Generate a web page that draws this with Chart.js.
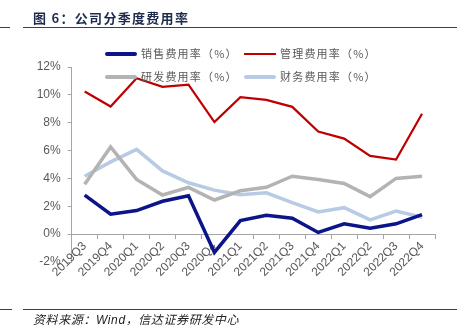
<!DOCTYPE html>
<html>
<head>
<meta charset="utf-8">
<script src="https://cdn.jsdelivr.net/npm/chart.js@4"></script>
<style>
  html, body { margin:0; padding:0; background:#fff; }
  #wrap { position:relative; width:465px; height:336px; overflow:hidden; background:#fff; }
  #c { position:absolute; left:0; top:0; }
  .txt { position:absolute; white-space:nowrap; }
  .rule { position:absolute; height:1px; background:#404040; }
  .lg-line { position:absolute; }
  .lg-text { position:absolute; font-family:"Noto Sans CJK SC", sans-serif; font-size:11px; color:#595959; letter-spacing:1.2px; line-height:14px; }
</style>
</head>
<body>
<div id="wrap">
  <canvas id="c" width="465" height="336"></canvas>
  <div class="txt" style="left:33px; top:9px; font-family:'Noto Sans CJK SC',sans-serif; font-weight:bold; font-size:13px; color:#1f2b4d; letter-spacing:1.3px; line-height:18px;">图 6：公司分季度费用率</div>
  <div class="rule" style="left:0; top:27px; width:10px;"></div>
  <div class="rule" style="left:23px; top:27px; width:434px;"></div>
  <div class="rule" style="left:0; top:309px; width:12px;"></div>
  <div class="rule" style="left:23px; top:309px; width:434px;"></div>
  <div class="txt" style="left:33px; top:311px; font-family:'Noto Sans CJK SC',sans-serif; font-style:italic; font-size:12px; color:#222; letter-spacing:0.6px; line-height:16px;">资料来源：<span style="font-family:'Liberation Sans',sans-serif;">Wind</span>，信达证券研发中心</div>
  <div id="legend"></div>
</div>
<script>
const categories = ['2019Q3','2019Q4','2020Q1','2020Q2','2020Q3','2020Q4','2021Q1','2021Q2','2021Q3','2021Q4','2022Q1','2022Q2','2022Q3','2022Q4'];
const seriesNames = ['销售费用率（%）','管理费用率（%）','研发费用率（%）','财务费用率（%）'];
const salesRate   = [2.80, 1.43, 1.69, 2.36, 2.76, -1.31, 0.97, 1.36, 1.14, 0.12, 0.74, 0.43, 0.74, 1.40];
const mgmtRate    = [10.24, 9.16, 11.19, 10.57, 10.74, 8.04, 9.83, 9.64, 9.14, 7.36, 6.86, 5.62, 5.36, 8.64];
const rdRate      = [3.59, 6.26, 3.93, 2.81, 3.36, 2.45, 3.11, 3.36, 4.16, 3.93, 3.64, 2.69, 4.00, 4.16];
const finRate     = [4.16, 5.19, 6.09, 4.54, 3.69, 3.16, 2.83, 2.97, 2.26, 1.59, 1.90, 1.02, 1.66, 1.21];
const yTicks = [-2, 0, 2, 4, 6, 8, 10, 12];

const colors = ['#0b1488', '#c00000', '#b3b3b3', '#b7cbe5'];
const widths = [3.5, 2.2, 3.5, 3.5];
const values = [salesRate, mgmtRate, rdRate, finRate];

// legend (HTML)
const lgPos = [
  {x:105, y:54}, {x:244, y:54},
  {x:105, y:77}, {x:244, y:77}
];
const lg = document.getElementById('legend');
seriesNames.forEach((name, i) => {
  const p = lgPos[i];
  const lw = i === 1 ? 2.5 : 4;
  const l = document.createElement('div');
  l.className = 'lg-line';
  l.style.left = p.x + 'px';
  l.style.top = (p.y - lw/2) + 'px';
  l.style.width = '32px';
  l.style.height = lw + 'px';
  l.style.background = colors[i];
  if (i !== 1) l.style.borderRadius = '2px';
  lg.appendChild(l);
  const t = document.createElement('div');
  t.className = 'lg-text';
  t.style.left = (p.x + 36) + 'px';
  t.style.top = (p.y - 8) + 'px';
  t.textContent = name;
  lg.appendChild(t);
});

const axisColor = '#a6a6a6';
const tickFont = { family: "'Liberation Sans', Arial, sans-serif", size: 12 };

new Chart(document.getElementById('c'), {
  type: 'line',
  data: {
    labels: categories,
    datasets: seriesNames.map((n, i) => ({
      label: n,
      data: values[i],
      borderColor: colors[i],
      backgroundColor: colors[i],
      borderWidth: widths[i],
      pointRadius: 0,
      pointHoverRadius: 0,
      tension: 0,
      fill: false,
      borderCapStyle: 'butt',
      borderJoinStyle: 'miter'
    }))
  },
  options: {
    responsive: false,
    animation: false,
    devicePixelRatio: 1,
    layout: { padding: { top: 67, bottom: 74, left: 0, right: 30 } },
    plugins: { legend: { display: false }, tooltip: { enabled: false }, title: { display: false } },
    scales: {
      y: {
        min: -2, max: 12,
        afterBuildTicks: (s) => { s.ticks = yTicks.map(v => ({ value: v })); },
        afterFit: (s) => { s.width = 71.7; },
        ticks: { callback: (v) => v + '%', color: '#595959', font: tickFont, padding: 7 },
        grid: { drawOnChartArea: false, drawTicks: true, tickLength: 4, color: axisColor },
        border: { display: true, color: axisColor, width: 1 }
      },
      x: {
        position: { y: 0 },
        offset: true,
        ticks: { minRotation: 45, maxRotation: 45, color: '#595959', font: tickFont, padding: 1, autoSkip: false },
        grid: { offset: true, drawOnChartArea: false, drawTicks: true, tickLength: 4, color: axisColor },
        border: { display: true, color: axisColor, width: 1 }
      }
    }
  }
});
</script>
</body>
</html>
